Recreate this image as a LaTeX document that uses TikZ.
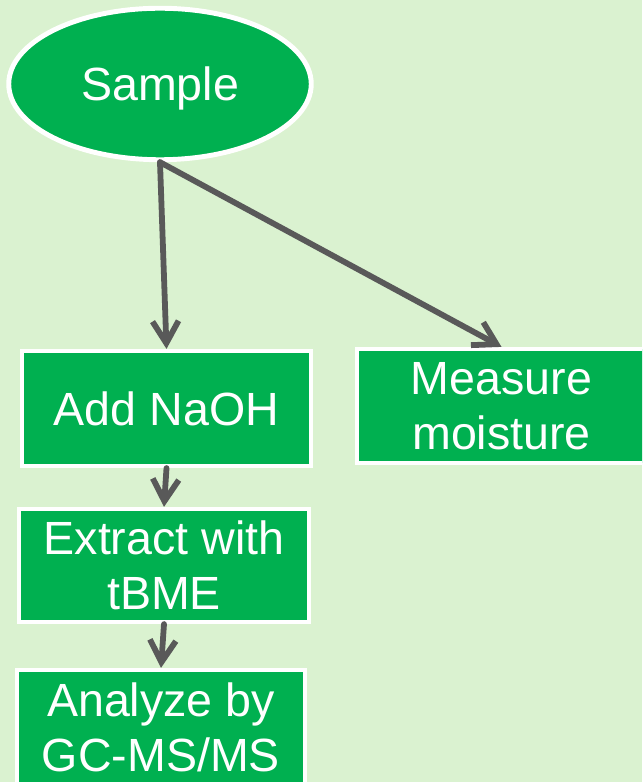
\documentclass[tikz,border=0pt]{standalone}
\usepackage{fontspec}
\setmainfont{Liberation Sans}
\usetikzlibrary{shapes.geometric, arrows.meta, positioning}
\definecolor{bggreen}{RGB}{218,242,208}
\definecolor{boxgreen}{RGB}{0,176,80}
\definecolor{arrowgray}{RGB}{89,89,89}
\tikzset{
  startnode/.style={ellipse, draw=white, fill=boxgreen, text=white,
    minimum width=6.05cm, minimum height=3.03cm, inner sep=0pt, text depth=0pt,
    font=\fontsize{26.5}{31.5}\selectfont, line width=2.8pt},
  stepbox/.style={rectangle, draw=white, fill=boxgreen, text=white,
    minimum width=5.78cm, minimum height=2.3cm, inner sep=0pt, align=center,
    font=\fontsize{26.5}{31.5}\selectfont, line width=2.4pt},
  flow/.style={-{Straight Barb[length=4.4mm, width=5.2mm]}, line width=3.3pt,
    color=arrowgray, line cap=round, line join=round}
}

\begin{document}
\begin{tikzpicture}
  \clip (0,0) rectangle (12.84,15.64);
  \fill[bggreen] (0,0) rectangle (12.84,15.64);

  % Nodes
  \node[startnode] (sample) at (3.2, 13.96) {Sample};

  \node[stepbox] (naoh) at (3.33, 7.47) {Add NaOH};
  \node[stepbox, minimum height=2.28cm] (moisture) at (10.03, 7.52) {Measure\\moisture};
  \node[stepbox, minimum width=5.8cm, minimum height=2.26cm] (extract) at (3.28, 4.33) {Extract with\\tBME};
  \node[stepbox, minimum width=5.76cm] (analyze) at (3.22, 1.09) {Analyze by\\GC-MS/MS};

  % Arrows
  \draw[flow] (sample.south) -- (naoh.north);
  \draw[flow] (sample.south) -- (moisture.north);
  \draw[flow] (naoh.south) -- (extract.north);
  \draw[flow] (extract.south) -- (analyze.north);
\end{tikzpicture}
\end{document}
